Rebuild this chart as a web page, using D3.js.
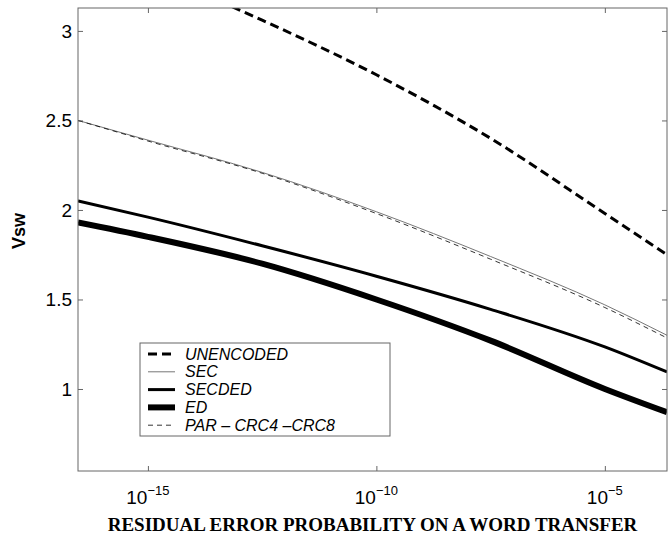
<!DOCTYPE html>
<html>
<head>
<meta charset="utf-8">
<script src="https://cdn.jsdelivr.net/npm/d3@7"></script>
<style>
  body { margin: 0; background: #fff; }
  text { font-family: "Liberation Sans", Arial, sans-serif; }
</style>
</head>
<body>
<script>
// x values are log10 of the residual error probability
var xTickExps = [-15, -10, -5];
var yTicks = [1, 1.5, 2, 2.5, 3];

var logP = [-16.53, -15, -12.5, -10, -7.5, -5, -3.64];
var secVals = [2.5, 2.39, 2.21, 1.99, 1.74, 1.47, 1.30];
var parVals = [2.5, 2.385, 2.205, 1.98, 1.725, 1.455, 1.285];
var secdedVals = [2.05, 1.96, 1.80, 1.63, 1.445, 1.235, 1.095];
var edVals = [1.93, 1.85, 1.70, 1.50, 1.27, 1.00, 0.87];

var unencLogP = [-14, -12.5, -10, -7.5, -5, -3.64];
var unencVals = [3.23, 3.06, 2.755, 2.40, 1.98, 1.75];

var legendNames = ["UNENCODED", "SEC", "SECDED", "ED", "PAR \u2013 CRC4 \u2013CRC8"];

(function() {
  var W = 668, H = 537;
  var pLeft = 78, pRight = 667, pTop = 8, pBottom = 471;

  var svg = d3.select("body").append("svg")
    .attr("width", W)
    .attr("height", H);

  var x = d3.scaleLog()
    .domain([Math.pow(10, -16.53), Math.pow(10, -3.64)])
    .range([pLeft, pRight]);

  var y = d3.scaleLinear()
    .domain([0.542, 3.128])
    .range([pBottom, pTop]);

  svg.append("clipPath").attr("id", "clip")
    .append("rect")
    .attr("x", pLeft).attr("y", pTop)
    .attr("width", pRight - pLeft).attr("height", pBottom - pTop);

  // series styles
  var series = [
    { name: legendNames[0], xs: unencLogP, ys: unencVals, color: "#000", width: 3, dash: "9,5" },
    { name: legendNames[1], xs: logP, ys: secVals, color: "#777", width: 1, dash: null },
    { name: legendNames[2], xs: logP, ys: secdedVals, color: "#000", width: 3, dash: null },
    { name: legendNames[3], xs: logP, ys: edVals, color: "#000", width: 6, dash: null },
    { name: legendNames[4], xs: logP, ys: parVals, color: "#000", width: 0.8, dash: "5,4" }
  ];

  var line = d3.line()
    .x(function(d) { return x(Math.pow(10, d[0])); })
    .y(function(d) { return y(d[1]); })
    .curve(d3.curveMonotoneX);

  var plot = svg.append("g").attr("clip-path", "url(#clip)");

  series.forEach(function(s) {
    var pts = s.xs.map(function(e, i) { return [e, s.ys[i]]; });
    plot.append("path")
      .attr("d", line(pts))
      .attr("fill", "none")
      .attr("stroke", s.color)
      .attr("stroke-width", s.width)
      .attr("stroke-dasharray", s.dash);
  });

  // axes, ticks pointing inward and mirrored on top and right
  var xTickVals = xTickExps.map(function(e) { return Math.pow(10, e); });

  var xAxisB = d3.axisBottom(x).tickValues(xTickVals).tickSize(-5).tickFormat("");
  var xAxisT = d3.axisTop(x).tickValues(xTickVals).tickSize(-5).tickFormat("");
  var yAxisL = d3.axisLeft(y).tickValues(yTicks).tickSize(-5).tickFormat("");
  var yAxisR = d3.axisRight(y).tickValues(yTicks).tickSize(-5).tickFormat("");

  function styleAxis(g) {
    g.select(".domain").remove();
    g.selectAll("line").attr("stroke", "#666");
  }

  svg.append("g").attr("transform", "translate(0," + pBottom + ")").call(xAxisB).call(styleAxis);
  svg.append("g").attr("transform", "translate(0," + pTop + ")").call(xAxisT).call(styleAxis);
  svg.append("g").attr("transform", "translate(" + pLeft + ",0)").call(yAxisL).call(styleAxis);
  svg.append("g").attr("transform", "translate(" + pRight + ",0)").call(yAxisR).call(styleAxis);

  svg.append("rect")
    .attr("x", pLeft).attr("y", pTop)
    .attr("width", pRight - pLeft).attr("height", pBottom - pTop)
    .attr("fill", "none")
    .attr("stroke", "#666")
    .attr("stroke-width", 1);

  // y tick labels
  svg.selectAll(".ylab")
    .data(yTicks)
    .enter().append("text")
    .attr("class", "ylab")
    .attr("x", pLeft - 6)
    .attr("y", function(d) { return y(d) + 7; })
    .attr("text-anchor", "end")
    .attr("font-size", "19px")
    .attr("fill", "#000")
    .text(function(d) { return d; });

  // x tick labels 10^-n
  var xl = svg.selectAll(".xlab")
    .data(xTickExps)
    .enter().append("text")
    .attr("class", "xlab")
    .attr("x", function(d) { return x(Math.pow(10, d)); })
    .attr("y", 504)
    .attr("text-anchor", "middle")
    .attr("fill", "#000");
  xl.append("tspan").attr("font-size", "19px").text("10");
  xl.append("tspan").attr("font-size", "13px").attr("dy", -9)
    .text(function(d) { return "\u2212" + Math.abs(d); });

  // axis titles
  svg.append("text")
    .attr("x", (pLeft + pRight) / 2)
    .attr("y", 531)
    .attr("text-anchor", "middle")
    .style("font-family", "'Liberation Serif', 'Times New Roman', serif")
    .attr("font-weight", "bold")
    .attr("font-size", "19px")
    .text("RESIDUAL ERROR PROBABILITY ON A WORD TRANSFER");

  svg.append("text")
    .attr("transform", "translate(25,231) rotate(-90)")
    .attr("text-anchor", "middle")
    .attr("font-weight", "bold")
    .attr("font-size", "18px")
    .text("Vsw");

  // legend
  var lgX = 140, lgY = 343, lgW = 250, lgH = 93, rowH = 17.8;
  var lg = svg.append("g");
  lg.append("rect")
    .attr("x", lgX).attr("y", lgY)
    .attr("width", lgW).attr("height", lgH)
    .attr("fill", "#fff")
    .attr("stroke", "#666");

  series.forEach(function(s, i) {
    var cy = lgY + 11 + i * rowH;
    lg.append("line")
      .attr("x1", lgX + 8).attr("x2", lgX + 35)
      .attr("y1", cy).attr("y2", cy)
      .attr("stroke", s.color)
      .attr("stroke-width", s.width)
      .attr("stroke-dasharray", s.dash);
    lg.append("text")
      .attr("x", lgX + 45)
      .attr("y", cy + 5.5)
      .attr("font-size", "16px")
      .attr("font-style", "italic")
      .text(s.name);
  });
})();
</script>
</body>
</html>
